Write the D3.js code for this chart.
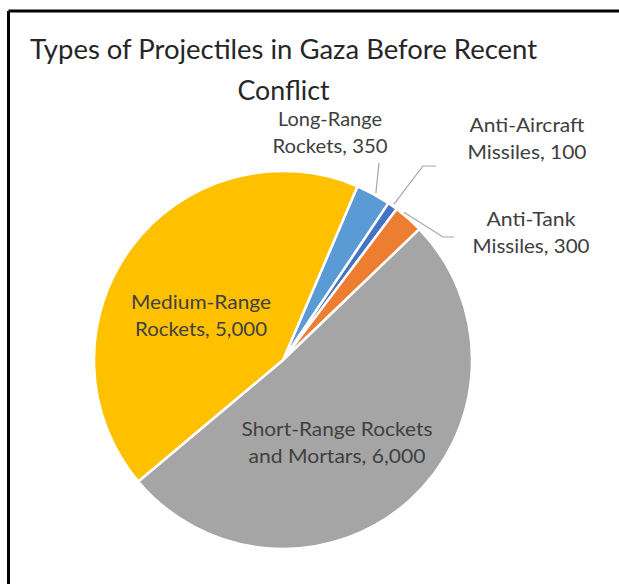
<!DOCTYPE html>
<html>
<head>
<meta charset="utf-8">
<script src="https://cdn.jsdelivr.net/npm/d3@7"></script>
<style>
  html, body { margin: 0; padding: 0; background: #fff; }
  svg { display: block; }
  text { font-family: Lato, "Open Sans", sans-serif; fill: #404040; }
</style>
</head>
<body>
<svg id="chart" width="619" height="584"></svg>
<script>
// ---- data ----
const categories = ["Long-Range Rockets", "Anti-Aircraft Missiles", "Anti-Tank Missiles", "Short-Range Rockets and Mortars", "Medium-Range Rockets"];
const values = [350, 100, 300, 6000, 5000];
const colors = ["#5B9BD5", "#4472C4", "#ED7D31", "#A5A5A5", "#FFC000"];
const labelLines = [
  ["Long-Range", "Rockets, 350"],
  ["Anti-Aircraft", "Missiles, 100"],
  ["Anti-Tank", "Missiles, 300"],
  ["Short-Range Rockets", "and Mortars, 6,000"],
  ["Medium-Range", "Rockets, 5,000"]
];
const titleLines = ["Types of Projectiles in Gaza Before Recent", "Conflict"];

// ---- layout ----
const svg = d3.select("#chart");
const cx = 283, cy = 360, r = 189;

// frame (top and left rules)
svg.append("line").attr("x1", 8.5).attr("y1", 11).attr("x2", 619).attr("y2", 11)
  .attr("stroke", "#000").attr("stroke-width", 3);
svg.append("line").attr("x1", 8.5).attr("y1", 11).attr("x2", 8.5).attr("y2", 584)
  .attr("stroke", "#000").attr("stroke-width", 3);

// title
const titleWidths = [507, 92];
const title = svg.append("g");
titleLines.forEach((t, i) => {
  title.append("text")
    .attr("x", 283.5).attr("y", 59 + i * 41)
    .attr("text-anchor", "middle")
    .attr("font-size", 27)
    .attr("textLength", titleWidths[i])
    .attr("lengthAdjust", "spacingAndGlyphs")
    .style("fill", "#262626")
    .text(t);
});

// pie
const startDeg = 23.2;
const pie = d3.pie().sort(null).value(d => d)
  .startAngle(startDeg * Math.PI / 180)
  .endAngle((startDeg + 360) * Math.PI / 180);
const arcs = pie(values);
const arc = d3.arc().innerRadius(0).outerRadius(r);

const g = svg.append("g").attr("transform", `translate(${cx},${cy})`);
g.selectAll("path").data(arcs).join("path")
  .attr("d", arc)
  .attr("fill", (d, i) => colors[i])
  .attr("stroke", "#fff")
  .attr("stroke-width", 2.5)
  .attr("stroke-linejoin", "round");

// labels: center x, first baseline y, widths of the lines
const labelPos = [
  { x: 330, y: 126, w: [104, 115] },
  { x: 527, y: 132, w: [115, 119] },
  { x: 531, y: 226, w: [89, 117] },
  { x: 337, y: 436, w: [191, 177] },
  { x: 201, y: 309, w: [140, 132] }
];
const lineGap = 27;
arcs.forEach((a, i) => {
  const p = labelPos[i];
  labelLines[i].forEach((t, j) => {
    svg.append("text")
      .attr("x", p.x).attr("y", p.y + j * lineGap)
      .attr("text-anchor", "middle")
      .attr("font-size", 19)
      .attr("textLength", p.w[j])
      .attr("lengthAdjust", "spacingAndGlyphs")
      .text(t);
  });
});

// leader lines: from label anchor toward slice outer edge (computed from arc)
function edgePoint(a, frac, rr) {
  const ang = a.startAngle + (a.endAngle - a.startAngle) * frac;
  return [cx + rr * Math.sin(ang), cy - rr * Math.cos(ang)];
}
const leaders = [
  { i: 0, pts: [[379, 163]], frac: 0.55 },
  { i: 1, pts: [[436, 166], [423, 166]], frac: 0.5 },
  { i: 2, pts: [[454, 237], [443, 237]], frac: 0.25 }
];
leaders.forEach(L => {
  const e = edgePoint(arcs[L.i], L.frac, r + 2);
  svg.append("path")
    .attr("d", d3.line()([...L.pts, e]))
    .attr("fill", "none")
    .attr("stroke", "#A6A6A6")
    .attr("stroke-width", 1.2);
});
</script>
</body>
</html>
